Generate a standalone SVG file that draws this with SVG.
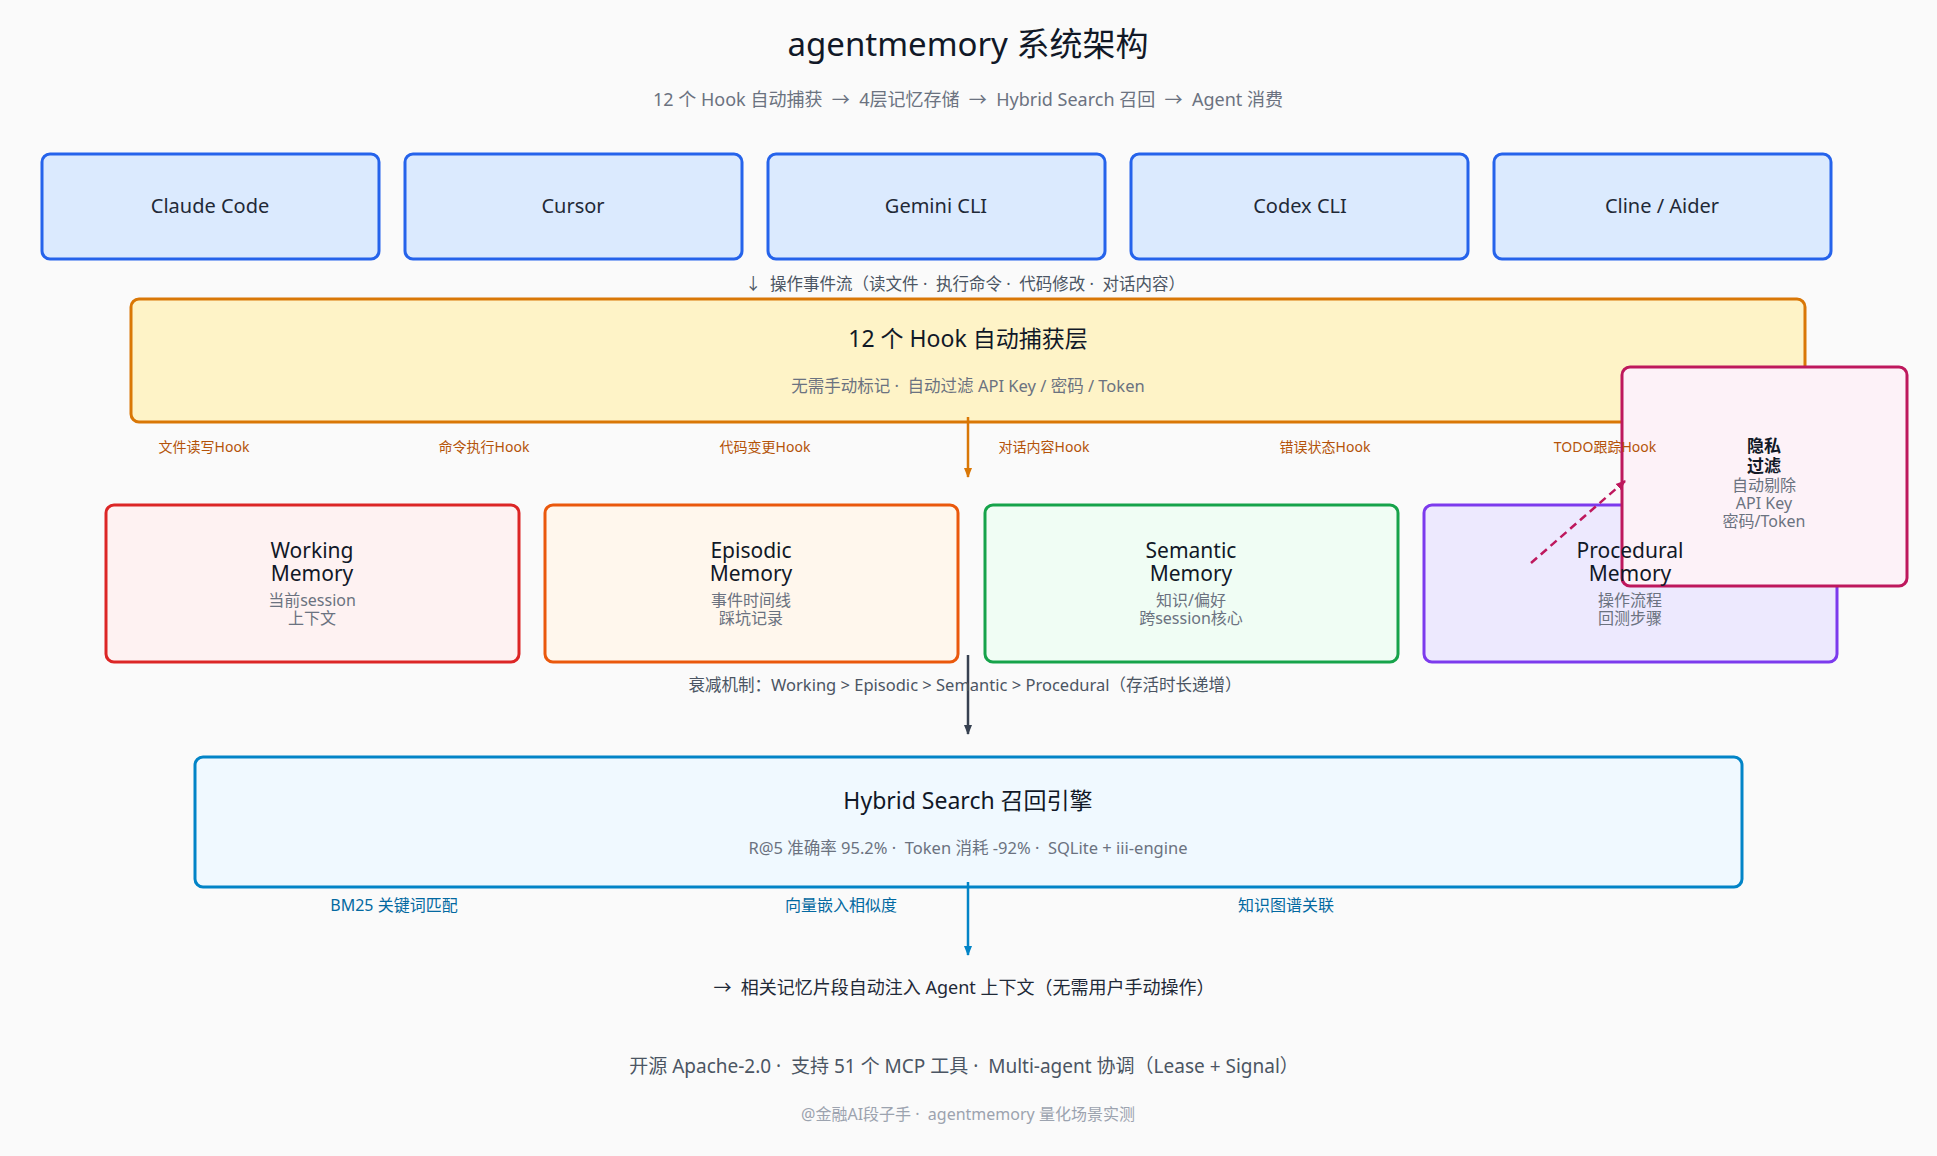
<svg xmlns="http://www.w3.org/2000/svg" width="1937" height="1156" viewBox="0 0 1937 1156">
<defs>
<style>
text{font-family:"Noto Sans","Noto Sans CJK SC",sans-serif;text-anchor:middle;}
.title{font-size:33px;fill:#111827;}
.sub{font-size:18px;fill:#6b7280;}
.agent rect{fill:#dbeafe;stroke:#2563eb;stroke-width:3;}
.agent text{font-size:20px;fill:#1f2937;}
.note{font-size:16.5px;fill:#4b5563;}
.lt{font-size:23px;fill:#111827;}
.ls{font-size:16.5px;fill:#6b7280;}
.mt{font-size:21px;fill:#111827;}
.ms{font-size:16px;fill:#6b7280;}
.hook{font-size:14px;fill:#b45309;}
.blue{font-size:16px;fill:#0369a1;}
</style>
<marker id="aO" viewBox="0 0 10 10" refX="9" refY="5" markerWidth="10" markerHeight="14" markerUnits="userSpaceOnUse" orient="auto"><path d="M0,1 L10,5 L0,9 z" fill="#d97706"/></marker>
<marker id="aD" viewBox="0 0 10 10" refX="9" refY="5" markerWidth="10" markerHeight="14" markerUnits="userSpaceOnUse" orient="auto"><path d="M0,1 L10,5 L0,9 z" fill="#374151"/></marker>
<marker id="aB" viewBox="0 0 10 10" refX="9" refY="5" markerWidth="10" markerHeight="14" markerUnits="userSpaceOnUse" orient="auto"><path d="M0,1 L10,5 L0,9 z" fill="#0284c7"/></marker>
<marker id="aP" viewBox="0 0 10 10" refX="9" refY="5" markerWidth="10" markerHeight="12" markerUnits="userSpaceOnUse" orient="auto"><path d="M0,1 L10,5 L0,9 z" fill="#be185d"/></marker>
</defs>
<rect width="1937" height="1156" fill="#fafafa"/>
<text class="title" x="968" y="56">agentmemory 系统架构</text>
<text class="sub" x="968" y="106">12 个 Hook 自动捕获 &#160;→ &#160;4层记忆存储 &#160;→ &#160;Hybrid Search 召回 &#160;→ &#160;Agent 消费</text>

<g id="agent-claude" class="agent"><rect x="42" y="154" width="337" height="105" rx="8"/><text x="210" y="213">Claude Code</text></g>
<g id="agent-cursor" class="agent"><rect x="405" y="154" width="337" height="105" rx="8"/><text x="573" y="213">Cursor</text></g>
<g id="agent-gemini" class="agent"><rect x="768" y="154" width="337" height="105" rx="8"/><text x="936" y="213">Gemini CLI</text></g>
<g id="agent-codex" class="agent"><rect x="1131" y="154" width="337" height="105" rx="8"/><text x="1300" y="213">Codex CLI</text></g>
<g id="agent-cline" class="agent"><rect x="1494" y="154" width="337" height="105" rx="8"/><text x="1662" y="213">Cline / Aider</text></g>

<text class="note" x="965" y="290">↓ &#160;操作事件流（读文件 · &#160;执行命令 · &#160;代码修改 · &#160;对话内容）</text>

<g id="hook-layer"><rect x="131" y="299" width="1674" height="123" rx="8" fill="#fef3c7" stroke="#d97706" stroke-width="3"/>
<text class="lt" x="968" y="347">12 个 Hook 自动捕获层</text>
<text class="ls" x="968" y="392">无需手动标记 · &#160;自动过滤 API Key / 密码 / Token</text></g>

<g id="mem-working"><rect x="106" y="505" width="413" height="157" rx="8" fill="#fef2f2" stroke="#dc2626" stroke-width="3"/>
<text class="mt" x="312" y="558">Working</text><text class="mt" x="312" y="581">Memory</text>
<text class="ms" x="312" y="606">当前session</text><text class="ms" x="312" y="624">上下文</text></g>
<g id="mem-episodic"><rect x="545" y="505" width="413" height="157" rx="8" fill="#fff7ed" stroke="#ea580c" stroke-width="3"/>
<text class="mt" x="751" y="558">Episodic</text><text class="mt" x="751" y="581">Memory</text>
<text class="ms" x="751" y="606">事件时间线</text><text class="ms" x="751" y="624">踩坑记录</text></g>
<g id="mem-semantic"><rect x="985" y="505" width="413" height="157" rx="8" fill="#f0fdf4" stroke="#16a34a" stroke-width="3"/>
<text class="mt" x="1191" y="558">Semantic</text><text class="mt" x="1191" y="581">Memory</text>
<text class="ms" x="1191" y="606">知识/偏好</text><text class="ms" x="1191" y="624">跨session核心</text></g>
<g id="mem-procedural"><rect x="1424" y="505" width="413" height="157" rx="8" fill="#ede9fe" stroke="#7c3aed" stroke-width="3"/></g>

<g id="privacy-filter"><rect x="1622" y="367" width="285" height="219" rx="8" fill="#fdf2f8" stroke="#be185d" stroke-width="3"/>
<text x="1764" y="452" style="font-size:17px;font-weight:bold;fill:#111827">隐私</text>
<text x="1764" y="472" style="font-size:17px;font-weight:bold;fill:#111827">过滤</text>
<text class="ms" x="1764" y="491">自动剔除</text>
<text class="ms" x="1764" y="509">API Key</text>
<text class="ms" x="1764" y="527">密码/Token</text></g>

<g id="mem-procedural-label">
<text class="mt" x="1630" y="558">Procedural</text><text class="mt" x="1630" y="581">Memory</text>
<text class="ms" x="1630" y="606">操作流程</text><text class="ms" x="1630" y="624">回测步骤</text></g>

<g id="hybrid-search"><rect x="195" y="757" width="1547" height="130" rx="8" fill="#f0f9ff" stroke="#0284c7" stroke-width="3"/>
<text class="lt" x="968" y="809">Hybrid Search 召回引擎</text>
<text class="ls" x="968" y="854">R@5 准确率 95.2% · &#160;Token 消耗 -92% · &#160;SQLite + iii-engine</text></g>

<g id="connectors">
<line x1="968" y1="417" x2="968" y2="477" stroke="#d97706" stroke-width="2.5" marker-end="url(#aO)"/>
<text class="hook" x="204" y="452">文件读写Hook</text>
<text class="hook" x="484" y="452">命令执行Hook</text>
<text class="hook" x="765" y="452">代码变更Hook</text>
<text class="hook" x="1044" y="452">对话内容Hook</text>
<text class="hook" x="1325" y="452">错误状态Hook</text>
<text class="hook" x="1605" y="452">TODO跟踪Hook</text>
<line x1="968" y1="655" x2="968" y2="734" stroke="#374151" stroke-width="2.5" marker-end="url(#aD)"/>
<line x1="968" y1="882" x2="968" y2="955" stroke="#0284c7" stroke-width="2.5" marker-end="url(#aB)"/>
<line x1="1531" y1="563" x2="1625" y2="481" stroke="#be185d" stroke-width="2.5" stroke-dasharray="8,5" marker-end="url(#aP)"/>
<text class="blue" x="394" y="911">BM25 关键词匹配</text>
<text class="blue" x="841" y="911">向量嵌入相似度</text>
<text class="blue" x="1286" y="911">知识图谱关联</text>
</g>

<text class="note" x="965" y="691">衰减机制：Working &gt; Episodic &gt; Semantic &gt; Procedural（存活时长递增）</text>
<text x="964" y="994" style="font-size:18px;fill:#1f2937">→ &#160;相关记忆片段自动注入 Agent 上下文（无需用户手动操作）</text>
<text x="964" y="1073" style="font-size:19px;fill:#4b5563">开源 Apache-2.0 · &#160;支持 51 个 MCP 工具 · &#160;Multi-agent 协调（Lease + Signal）</text>
<text x="968" y="1120" style="font-size:16px;fill:#9ca3af">@金融AI段子手 · &#160;agentmemory 量化场景实测</text>
</svg>
